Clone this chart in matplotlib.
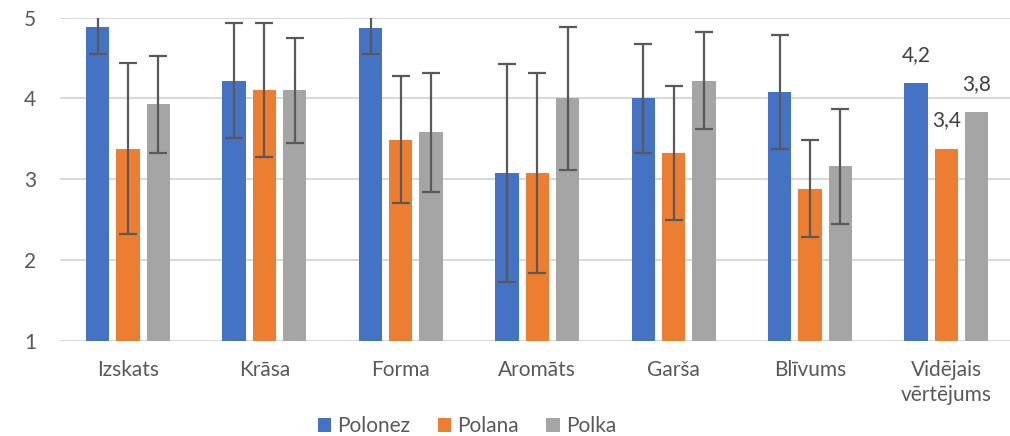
import matplotlib.pyplot as plt
import numpy as np

plt.rcParams['font.family'] = ['Lato', 'DejaVu Sans']

categories = ['Izskats', 'Krāsa', 'Forma', 'Aromāts', 'Garša', 'Blīvums', 'Vidējais\nvērtējums']
series = ['Polonez', 'Polana', 'Polka']

polonez = [4.88, 4.22, 4.87, 3.08, 4.00, 4.08, 4.19]
polana = [3.38, 4.11, 3.49, 3.08, 3.33, 2.88, 3.38]
polka = [3.93, 4.10, 3.58, 4.00, 4.22, 3.16, 3.83]

# standard deviations (no error bar for the average group)
polonez_err = [0.33, 0.71, 0.32, 1.35, 0.68, 0.71, 0]
polana_err = [1.06, 0.83, 0.79, 1.24, 0.83, 0.60, 0]
polka_err = [0.60, 0.65, 0.74, 0.88, 0.60, 0.71, 0]

avg_labels = ['4,2', '3,4', '3,8']

colors = ['#4472C4', '#ED7D31', '#A5A5A5']
text_c = '#595959'

fig = plt.figure(figsize=(10.1, 4.36), dpi=100)
ax = fig.add_axes([59.8 / 1010, 95.3 / 436, 1 - 59.8 / 1010, 323 / 436])

x = np.arange(len(categories))
width = 0.171
step = 0.222

vals = [polonez, polana, polka]
errs = [polonez_err, polana_err, polka_err]
for i, (name, v, e, c) in enumerate(zip(series, vals, errs, colors)):
    pos = x + (i - 1) * step
    ax.bar(pos, v, width, color=c, label=name, zorder=2)
    # error bars only for the first six categories
    ax.errorbar(pos[:-1], v[:-1], yerr=e[:-1], fmt='none', ecolor='#595959',
                elinewidth=1.6, capsize=6.5, capthick=1.6, zorder=3)
    ax.annotate(avg_labels[i], (pos[-1], v[-1]), xytext=(0, 13),
                textcoords='offset points', ha='center', va='bottom',
                fontsize=15, color='#404040')

ax.set_ylim(1, 5)
ax.set_xlim(-0.5, 6.466)
ax.set_yticks([1, 2, 3, 4, 5])
ax.grid(axis='y', color='#D9D9D9', linewidth=1.5, zorder=0)
ax.set_axisbelow(True)
for s in ax.spines.values():
    s.set_visible(False)

ax.set_xticks(x)
ax.set_xticklabels(categories, fontsize=15, color=text_c, linespacing=1.3)
ax.tick_params(axis='x', length=0, pad=14)
ax.tick_params(axis='y', length=0, pad=17, labelsize=15, labelcolor=text_c)

fig.legend(loc='center', bbox_to_anchor=(467 / 1010, 10 / 436), ncol=3,
           frameon=False, fontsize=15, labelcolor=text_c,
           handlelength=0.65, handleheight=0.65, handletextpad=0.3,
           columnspacing=1.3)

fig.savefig('out.png', dpi=100)
